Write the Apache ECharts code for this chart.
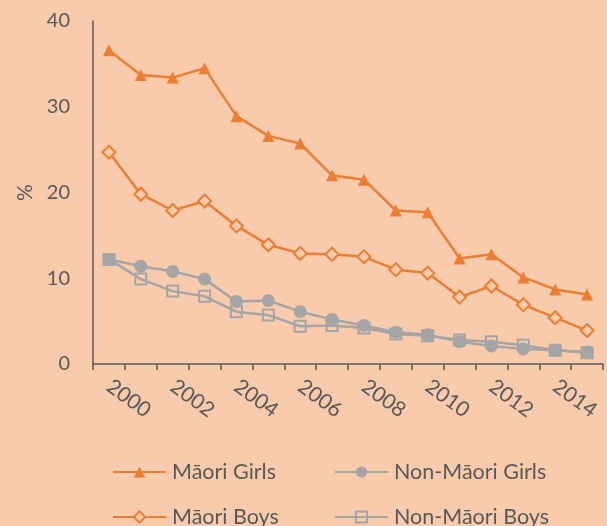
<!DOCTYPE html>
<html>
<head>
<meta charset="utf-8">
<script src="https://cdn.jsdelivr.net/npm/echarts@6/dist/echarts.min.js"></script>
<style>
html,body{margin:0;padding:0;background:#F7CBAC;}
#chart{width:607px;height:526px;}
</style>
</head>
<body>
<div id="chart"></div>
<script>
const years = ['2000','2001','2002','2003','2004','2005','2006','2007','2008','2009','2010','2011','2012','2013','2014','2015'];
const maoriGirls = [36.6,33.7,33.4,34.5,28.9,26.6,25.7,22.0,21.5,17.9,17.7,12.3,12.8,10.1,8.7,8.1];
const nonMaoriGirls = [12.2,11.4,10.8,9.9,7.3,7.4,6.1,5.2,4.5,3.7,3.4,2.6,2.1,1.75,1.6,1.4];
const maoriBoys = [24.7,19.8,17.9,19.0,16.1,13.9,12.9,12.8,12.5,11.0,10.6,7.8,9.1,6.9,5.4,3.9];
const nonMaoriBoys = [12.2,9.9,8.5,7.9,6.1,5.7,4.4,4.5,4.2,3.5,3.3,2.8,2.6,2.2,1.6,1.3];
const yTicks = [0,10,20,30,40];

const BG = '#F7CBAC';
const ORANGE = '#ED7D31';
const GRAY = '#A5A5A5';
const TXT = '#595959';
const FONT = 'Lato';

const chart = echarts.init(document.getElementById('chart'), null, {renderer:'canvas'});

function legendAt(name, left, top){
  return {
    data:[name], left:left, top:top, orient:'horizontal',
    itemWidth:53, itemHeight:14, itemGap:0, padding:0,
    textStyle:{color:TXT, fontSize:21.5, fontFamily:FONT, padding:[0,0,0,1]}
  };
}

chart.setOption({
  backgroundColor: BG,
  animation:false,
  grid:{left:93, right:4, top:21, bottom:162, containLabel:false},
  legend:[
    legendAt('Māori Girls',112,461),
    legendAt('Non-Māori Girls',334,461),
    legendAt('Māori Boys',112,506),
    legendAt('Non-Māori Boys',334,506)
  ],
  xAxis:{
    type:'category', data:years, boundaryGap:true,
    axisLine:{show:true, lineStyle:{color:TXT, width:1.5}},
    axisTick:{show:true, interval:0, length:6, lineStyle:{color:TXT, width:1.5}},
    axisLabel:{interval:1, rotate:-36, margin:20, color:TXT, fontSize:21, fontFamily:FONT},
    splitLine:{show:false}
  },
  yAxis:{
    type:'value', min:yTicks[0], max:yTicks[yTicks.length-1], interval:10,
    name:'%', nameLocation:'middle', nameGap:56, nameRotate:90,
    nameTextStyle:{color:TXT, fontSize:21, fontFamily:FONT},
    axisLine:{show:true, lineStyle:{color:TXT, width:1.5}},
    axisTick:{show:false},
    axisLabel:{color:TXT, fontSize:20, fontFamily:FONT, margin:23},
    splitLine:{show:false}
  },
  series:[
    {name:'Māori Girls', type:'line', data:maoriGirls, symbol:'triangle', symbolSize:12,
     lineStyle:{color:ORANGE, width:2.5}, itemStyle:{color:ORANGE}},
    {name:'Non-Māori Girls', type:'line', data:nonMaoriGirls, symbol:'circle', symbolSize:13,
     lineStyle:{color:GRAY, width:2.5}, itemStyle:{color:GRAY}},
    {name:'Māori Boys', type:'line', data:maoriBoys, symbol:'diamond', symbolSize:13,
     lineStyle:{color:ORANGE, width:2.5}, itemStyle:{color:BG, borderColor:ORANGE, borderWidth:2}},
    {name:'Non-Māori Boys', type:'line', data:nonMaoriBoys, symbol:'rect', symbolSize:11,
     lineStyle:{color:GRAY, width:2.5}, itemStyle:{color:'rgba(0,0,0,0)', borderColor:GRAY, borderWidth:2}}
  ]
});
</script>
</body>
</html>
